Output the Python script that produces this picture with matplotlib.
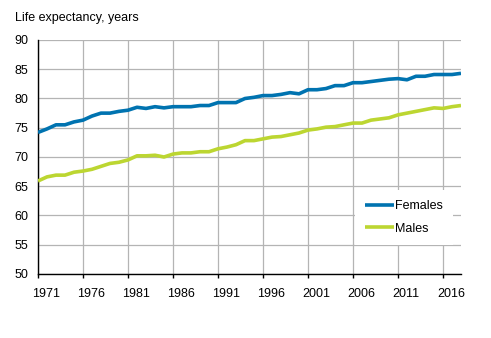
import matplotlib.pyplot as plt
import matplotlib.transforms as mtransforms

# ================================
# DATA
# ================================

years = list(range(1971, 2019))

females = [74.2, 74.8, 75.5, 75.5, 76.0, 76.3, 77.0, 77.5, 77.5, 77.8,
           78.0, 78.5, 78.3, 78.6, 78.4, 78.6, 78.6, 78.6, 78.8, 78.8,
           79.3, 79.3, 79.3, 80.0, 80.2, 80.5, 80.5, 80.7, 81.0, 80.8,
           81.5, 81.5, 81.7, 82.2, 82.2, 82.7, 82.7, 82.9, 83.1, 83.3,
           83.4, 83.2, 83.8, 83.8, 84.1, 84.1, 84.1, 84.3]

males = [65.9, 66.6, 66.9, 66.9, 67.4, 67.6, 67.9, 68.4, 68.9, 69.1,
         69.5, 70.2, 70.2, 70.3, 70.0, 70.5, 70.7, 70.7, 70.9, 70.9,
         71.4, 71.7, 72.1, 72.8, 72.8, 73.1, 73.4, 73.5, 73.8, 74.1,
         74.6, 74.8, 75.1, 75.2, 75.5, 75.8, 75.8, 76.3, 76.5, 76.7,
         77.2, 77.5, 77.8, 78.1, 78.4, 78.3, 78.6, 78.8]

x_ticks = list(range(1971, 2017, 5))
y_ticks = list(range(50, 91, 5))

# ================================
# PLOT
# ================================

plt.rcParams['font.family'] = ['Liberation Sans', 'DejaVu Sans']

fig = plt.figure(figsize=(4.91, 3.38), dpi=100)
ax = fig.add_axes([38 / 491, 1 - 274 / 338, 423 / 491, 234 / 338])

ax.plot(years, females, color='#0073B0', linewidth=2.6, label='Females',
        solid_capstyle='butt', zorder=3)
ax.plot(years, males, color='#BCD631', linewidth=2.6, label='Males',
        solid_capstyle='butt', zorder=3)

ax.set_xlim(1971, 2018)
ax.set_ylim(50, 90)
ax.set_xticks(x_ticks)
ax.set_yticks(y_ticks)
ax.grid(True, color='#B4B4B4', linewidth=0.9, zorder=0)
ax.set_axisbelow(True)

for side in ['top', 'right']:
    ax.spines[side].set_visible(False)
for side in ['left', 'bottom']:
    ax.spines[side].set_color('black')
    ax.spines[side].set_linewidth(1.0)

ax.tick_params(axis='y', length=0, pad=7, labelsize=9)
ax.tick_params(axis='x', length=3, width=1, direction='out', pad=7, labelsize=9)

# shift year labels a bit to the right of their ticks
offset = mtransforms.ScaledTranslation(8 / 100, 0, fig.dpi_scale_trans)
for label in ax.get_xticklabels():
    label.set_transform(label.get_transform() + offset)

fig.text(15 / 491, 1 - 18 / 338, 'Life expectancy, years', fontsize=9,
         va='center', ha='left')

leg = ax.legend(loc='upper left', bbox_to_anchor=(0.749, 0.359), fontsize=9,
                frameon=True, facecolor='white', edgecolor='none', framealpha=1,
                fancybox=False, handlelength=2.3, handletextpad=0.15,
                labelspacing=0.85, borderpad=0.8, borderaxespad=0)
leg.set_zorder(4)

plt.savefig('out.png', dpi=100)
plt.close()
